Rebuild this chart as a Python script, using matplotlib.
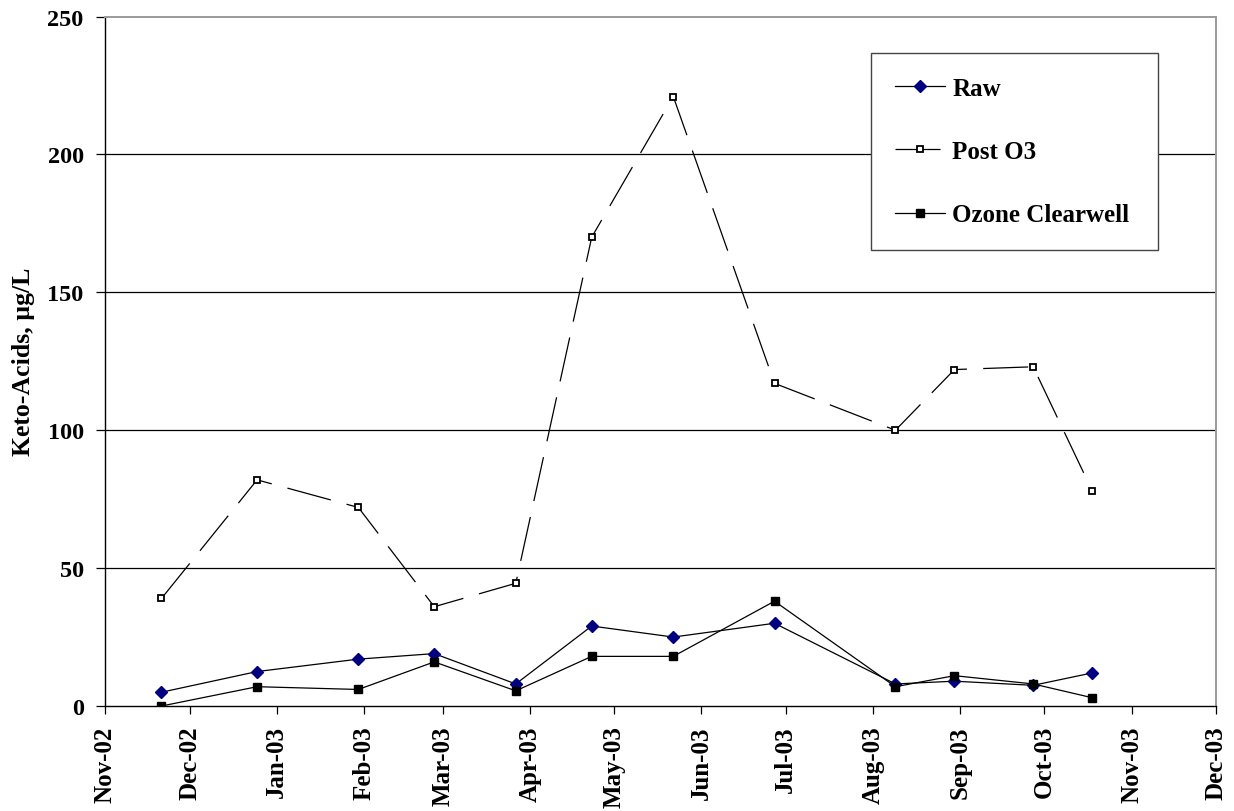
import numpy as np
import matplotlib
matplotlib.use("Agg")
import matplotlib.pyplot as plt
import matplotlib.dates as mdates

plt.rcParams['font.family'] = ['Liberation Serif', 'DejaVu Serif']
plt.rcParams['font.weight'] = 'bold'

# sampling dates (same for all three sample points)
dates = np.array(["2002-11-21", "2002-12-25", "2003-01-30", "2003-02-26",
                  "2003-03-27", "2003-04-23", "2003-05-22", "2003-06-27",
                  "2003-08-09", "2003-08-30", "2003-09-27", "2003-10-18"],
                 dtype="datetime64[D]")

# keto-acids, ug/L
raw = [5, 12.5, 17, 19, 8, 29, 25, 30, 8, 9, 7.5, 12]
post_o3 = [39, 82, 72, 36, 44.5, 170, 221, 117, 100, 122, 123, 78]
clearwell = [0, 7, 6, 16, 5.5, 18, 18, 38, 7, 11, 8, 3]

y_ticks = [0, 50, 100, 150, 200, 250]
x_start = np.datetime64("2002-11-01")
x_end = np.datetime64("2003-12-01")

fig = plt.figure(figsize=(12.34, 8.12), dpi=100)
ax = fig.add_axes([0.0853, 0.1293, 0.9001, 0.8491])

lw = 0.9
ax.plot(dates, raw, color="black", lw=lw, marker="D", ms=6.0,
        mfc="#000080", mec="#000080", label="Raw", zorder=3)
ax.plot(dates, post_o3, color="black", lw=lw, dashes=(36, 13),
        marker="s", ms=5.0, mfc="white", mec="black", mew=1.3,
        label="Post O3", zorder=3)
ax.plot(dates, clearwell, color="black", lw=lw, marker="s", ms=6.4,
        mfc="black", mec="black", label="Ozone Clearwell", zorder=3)

# horizontal gridlines (no line on the top border)
for v in y_ticks[1:-1]:
    ax.axhline(v, color="black", lw=0.9, zorder=1)

ax.set_ylim(y_ticks[0], y_ticks[-1])
ax.set_yticks(y_ticks)
ax.set_xlim(x_start, x_end)
ax.xaxis.set_major_locator(mdates.MonthLocator())
ax.xaxis.set_major_formatter(mdates.DateFormatter("%b-%y"))

ax.tick_params(axis='y', direction='out', length=6.5, width=0.9, pad=9,
               labelsize=17.5)
ax.tick_params(axis='x', direction='out', length=5.8, width=0.9, pad=8,
               labelsize=18, labelrotation=90)

ax.set_ylabel("Keto-Acids, µg/L", fontsize=18.5, fontweight='bold', labelpad=9)

ax.spines['left'].set_color("black")
ax.spines['bottom'].set_color("black")
ax.spines['left'].set_linewidth(1.0)
ax.spines['bottom'].set_linewidth(1.0)
ax.spines['top'].set_color("#9a9a9a")
ax.spines['right'].set_color("#9a9a9a")
ax.spines['top'].set_linewidth(1.4)
ax.spines['right'].set_linewidth(1.4)

leg = ax.legend(loc="upper left", bbox_to_anchor=(0.6894, 0.673, 0.2581, 0.274),
                mode="expand", borderaxespad=0, fontsize=18, fancybox=False,
                framealpha=1, edgecolor="#444444", labelspacing=1.61,
                handlelength=2.0, handletextpad=0.3, borderpad=0.95)
leg.get_frame().set_linewidth(1.0)
for t in leg.get_texts():
    t.set_fontweight('bold')

fig.savefig("out.png", dpi=100)
